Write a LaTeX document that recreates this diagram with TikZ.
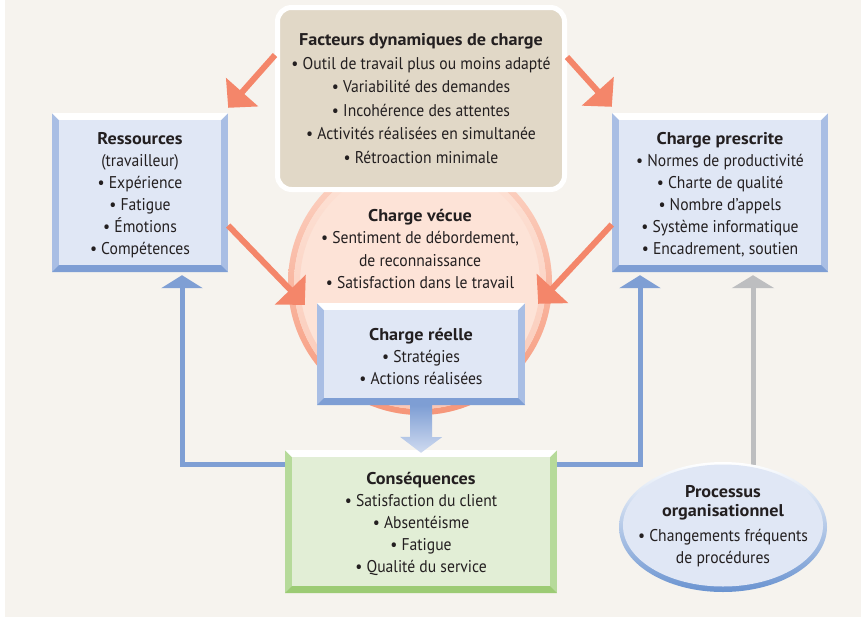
\documentclass[tikz,border=0pt]{standalone}
\usepackage{fontspec}
\setmainfont{PT Sans}[FakeStretch=0.92, BoldFeatures={FakeStretch=1.07}]
\usetikzlibrary{arrows.meta,calc,shapes.geometric}
\definecolor{bg}{HTML}{F6F3EE}
\definecolor{tanfill}{HTML}{E1D8C7}
\definecolor{txt}{HTML}{231F20}
\definecolor{salmon}{HTML}{F4866A}
\definecolor{peach}{HTML}{FDE3D7}
\definecolor{ringc}{HTML}{F69679}
\definecolor{bside}{HTML}{A9BEE4}
\definecolor{bbot}{HTML}{7E9ED4}
\definecolor{binner}{HTML}{E0E7F5}
\definecolor{gside}{HTML}{B6DA9A}
\definecolor{gbot}{HTML}{9CCB74}
\definecolor{ginner}{HTML}{E2EED6}
\definecolor{blueln}{HTML}{7F9FD4}
\definecolor{grayln}{HTML}{BDBEC0}
\definecolor{ellbl}{HTML}{6A93D0}
\newcommand\bevbox[9]{%
  \pgfmathsetmacro\bxa{#2-#4/2}\pgfmathsetmacro\bxb{#2+#4/2}%
  \pgfmathsetmacro\bya{#3-#5/2}\pgfmathsetmacro\byb{#3+#5/2}%
  \fill[#6] (\bxa,\bya) rectangle (\bxb,\byb);
  \fill[white] (\bxa,\bya) -- (\bxb,\bya) -- (\bxb-7,\bya+7) -- (\bxa+7,\bya+7) -- cycle;
  \fill[#7] (\bxa,\byb) -- (\bxb,\byb) -- (\bxb-7,\byb-7) -- (\bxa+7,\byb-7) -- cycle;
  \fill[#8] (\bxa+7,\bya+7) rectangle (\bxb-7,\byb-7);
  \node[inner sep=0pt, minimum width=#4pt, minimum height=#5pt] (#1) at (#2,#3) {};
  \node[boxtext] (#1t) at ($(#1.center)+(0,2.5)$) {#9};
}
\tikzset{
  boxtext/.style={align=center, inner sep=0pt, text=txt, font=\fontsize{17}{22}\selectfont},
  salarrow/.style={draw=salmon, line width=6pt, -{Triangle[width=42pt,length=21pt]}},
  blarrow/.style={draw=blueln, line width=5pt, -{Triangle[width=41pt,length=13pt]}},
  grarrow/.style={draw=grayln, line width=5pt, -{Triangle[width=42pt,length=13pt]}},
}
\begin{document}
\begin{tikzpicture}[x=1pt,y=-1pt]
\useasboundingbox (0,0) rectangle (861,616);
\fill[white] (-5,-5) rectangle (866,621);
\fill[bg] (5,-5) rectangle (866,621);
% Charge vecue circle
\node[circle, minimum size=264pt, inner sep=0pt, fill=peach] (vecue) at (420,283) {};
\shade[top color=peach!85!ringc, bottom color=ringc, even odd rule]
  (vecue.center) circle (132pt) (vecue.center) circle (126pt);
\shade[top color=peach, bottom color=peach!65!ringc, even odd rule]
  (vecue.center) circle (126pt) (vecue.center) circle (120pt);
% Facteurs
\node[draw=white, line width=5pt, fill=tanfill, rounded corners=14pt,
      minimum width=287pt, minimum height=182pt, align=center, inner sep=0pt,
      text=txt, font=\fontsize{17}{23.5}\selectfont] (fact) at (421,98.5)
  {\textbf{Facteurs dynamiques de charge}\\• Outil de travail plus ou moins adapté\\• Variabilité des demandes\\• Incohérence des attentes\\• Activités réalisées en simultanée\\• Rétroaction minimale};
\node[boxtext, font=\fontsize{17}{22.6}\selectfont] (vecuetxt) at ($(vecue.center)+(0,-34)$)
  {\textbf{Charge vécue}\\• Sentiment de débordement,\\de reconnaissance\\• Satisfaction dans le travail};
% boxes
\bevbox{res}{140}{192.5}{176}{159}{bside}{bbot}{binner}
  {\textbf{Ressources}\\(travailleur)\\• Expérience\\• Fatigue\\• Émotions\\• Compétences}
\bevbox{pres}{720}{192.5}{216}{159}{bside}{bbot}{binner}
  {\textbf{Charge prescrite}\\• Normes de productivité\\• Charte de qualité\\• Nombre d’appels\\• Système informatique\\• Encadrement, soutien}
\bevbox{reelle}{421}{354}{208}{102}{bside}{bbot}{binner}
  {\textbf{Charge réelle}\\• Stratégies\\• Actions réalisées}
\bevbox{cons}{421}{521.5}{272}{143}{gside}{gbot}{ginner}
  {\textbf{Conséquences}\\• Satisfaction du client\\• Absentéisme\\• Fatigue\\• Qualité du service}
% salmon arrows
\draw[salarrow] ($(fact.north west)+(0,50)$) -- ($(res.north east)+(0,-5)$);
\draw[salarrow] ($(fact.north east)+(0,52)$) -- ($(pres.north west)+(0,-6)$);
\draw[salarrow] ($(res.east)+(0,33)$) -- ($(reelle.north west)+(-12,2)$);
\draw[salarrow] ($(pres.west)+(0,32)$) -- ($(reelle.north east)+(13,1)$);
% thick arrow
\shade[top color=bbot, bottom color=binner!70!bside]
  ($(reelle.south)+(-11,0)$) -- ++(22,0) -- ++(0,32) -- ++(10,0)
  -- ($(cons.north)+(0,3)$) -- ++(-21,-16) -- ++(10,0) -- cycle;
% blue / gray arrows
\draw[blarrow] ($(cons.north west)+(0,15)$) -| ($(res.south)+(42,3)$);
\draw[blarrow] ($(cons.north east)+(0,15)$) -| ($(pres.south)+(-80,3)$);
% Processus ellipse
\node[ellipse, minimum width=208pt, minimum height=130pt, inner sep=0pt] (proc) at (723,527) {};
\draw[grarrow] ($(proc.north)+(30,3)$) -- ($(pres.south)+(33,3)$);
\shade[top color=white, bottom color=ellbl] (proc.center) ellipse [x radius=104pt, y radius=65pt];
\fill[binner] ($(proc.center)+(0,-1.5)$) ellipse [x radius=100pt, y radius=61pt];
\node[boxtext, font=\fontsize{17}{19}\selectfont] (proctxt) at ($(proc.center)+(0,-1)$)
  {\textbf{Processus}\\\textbf{organisationnel}\\[6pt]• Changements fréquents\\[3pt]de procédures};
\end{tikzpicture}
\end{document}
